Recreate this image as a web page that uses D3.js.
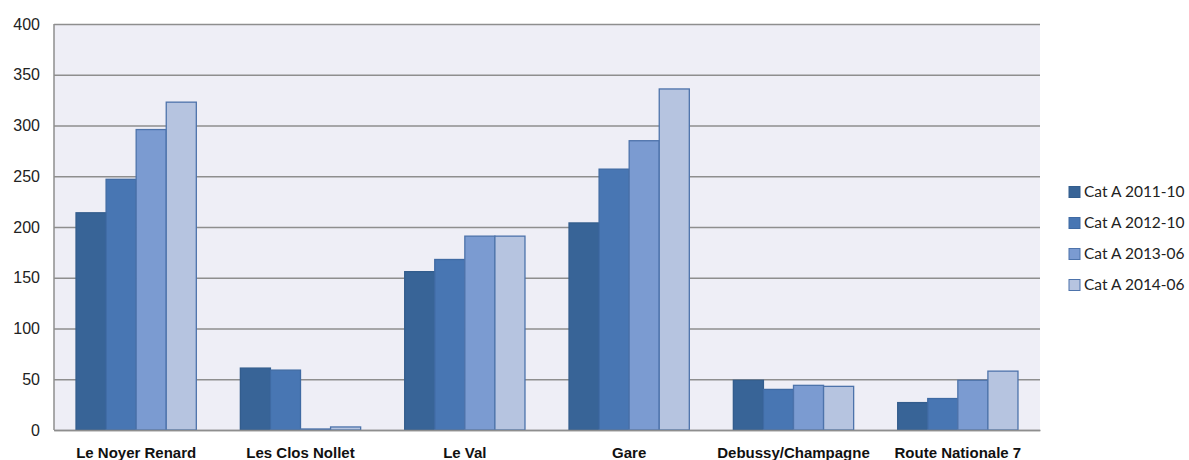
<!DOCTYPE html>
<html>
<head>
<meta charset="utf-8">
<script src="https://cdn.jsdelivr.net/npm/d3@7"></script>
<style>
  html, body { margin: 0; padding: 0; background: #ffffff; }
  svg { display: block; font-family: Lato, "Open Sans", "Liberation Sans", sans-serif; }
</style>
</head>
<body>
<svg id="chart" width="1189" height="460"></svg>
<script>
// Quartiers et séries
const categories = ["Le Noyer Renard", "Les Clos Nollet", "Le Val", "Gare", "Debussy/Champagne", "Route Nationale 7"];
const seriesNames = ["Cat A 2011-10", "Cat A 2012-10", "Cat A 2013-06", "Cat A 2014-06"];
const cat2011 = [214, 61, 156, 204, 49, 27];
const cat2012 = [247, 59, 168, 257, 40, 31];
const cat2013 = [296, 1, 191, 285, 44, 49];
const cat2014 = [323, 3, 191, 336, 43, 58];
const yTicks = [0, 50, 100, 150, 200, 250, 300, 350, 400];

const seriesValues = [cat2011, cat2012, cat2013, cat2014];
const fills = ["#386497", "#4876b3", "#7b9bd1", "#b6c4e0"];
const strokes = ["#335d8d", "#3f6aa3", "#4d73ab", "#4d73ab"];

const svg = d3.select("#chart");
const plot = { left: 54, right: 1040, top: 24, bottom: 430 };

const x = d3.scaleBand()
  .domain(categories)
  .range([plot.left, plot.right])
  .paddingInner(0.268)
  .paddingOuter(0.134);

const xs = d3.scaleBand()
  .domain(d3.range(seriesNames.length))
  .range([0, x.bandwidth()]);

const y = d3.scaleLinear().domain([0, 400]).range([plot.bottom, plot.top]);

// plot background
svg.append("rect")
  .attr("x", plot.left).attr("y", plot.top)
  .attr("width", plot.right - plot.left).attr("height", plot.bottom - plot.top)
  .attr("fill", "#eeeef6");

// gridlines + y labels
const yAxis = d3.axisLeft(y).tickValues(yTicks).tickSize(-(plot.right - plot.left)).tickPadding(14);
const gy = svg.append("g").attr("transform", `translate(${plot.left},0)`).call(yAxis);
gy.select(".domain").remove();
gy.selectAll(".tick line").attr("stroke", "#8e8e8e").attr("stroke-width", 1.5);
gy.selectAll(".tick text").attr("fill", "#222").style("font-size", "16px");

// left axis line
svg.append("line")
  .attr("x1", plot.left).attr("x2", plot.left)
  .attr("y1", plot.top).attr("y2", plot.bottom)
  .attr("stroke", "#8e8e8e").attr("stroke-width", 1.5);

// bars
const groups = svg.append("g").selectAll("g")
  .data(categories)
  .join("g")
  .attr("transform", d => `translate(${x(d)},0)`);

groups.selectAll("rect")
  .data((d, i) => seriesValues.map((vals, s) => ({ s, v: vals[i] })))
  .join("rect")
  .attr("x", d => xs(d.s))
  .attr("y", d => y(d.v))
  .attr("width", xs.bandwidth())
  .attr("height", d => y(0) - y(d.v))
  .attr("fill", d => fills[d.s])
  .attr("stroke", d => strokes[d.s])
  .attr("stroke-width", 1.3);

// x labels
const xAxis = d3.axisBottom(x).tickSize(0).tickPadding(17);
const gx = svg.append("g").attr("transform", `translate(0,${plot.bottom})`).call(xAxis);
gx.select(".domain").attr("stroke", "#8e8e8e").attr("stroke-width", 1.5);
gx.selectAll(".tick text").attr("fill", "#111").style("font-size", "15px").style("font-weight", "bold");

// legend
const legend = svg.append("g").attr("transform", "translate(1069,192)");
const item = legend.selectAll("g")
  .data(seriesNames)
  .join("g")
  .attr("transform", (d, i) => `translate(0,${i * 31})`);
item.append("rect")
  .attr("x", 0).attr("y", -5.5).attr("width", 11).attr("height", 11)
  .attr("fill", (d, i) => fills[i])
  .attr("stroke", (d, i) => strokes[i]);
item.append("text")
  .attr("x", 15).attr("y", 0).attr("dy", "0.35em")
  .attr("fill", "#222").style("font-size", "15.5px")
  .text(d => d);
</script>
</body>
</html>
